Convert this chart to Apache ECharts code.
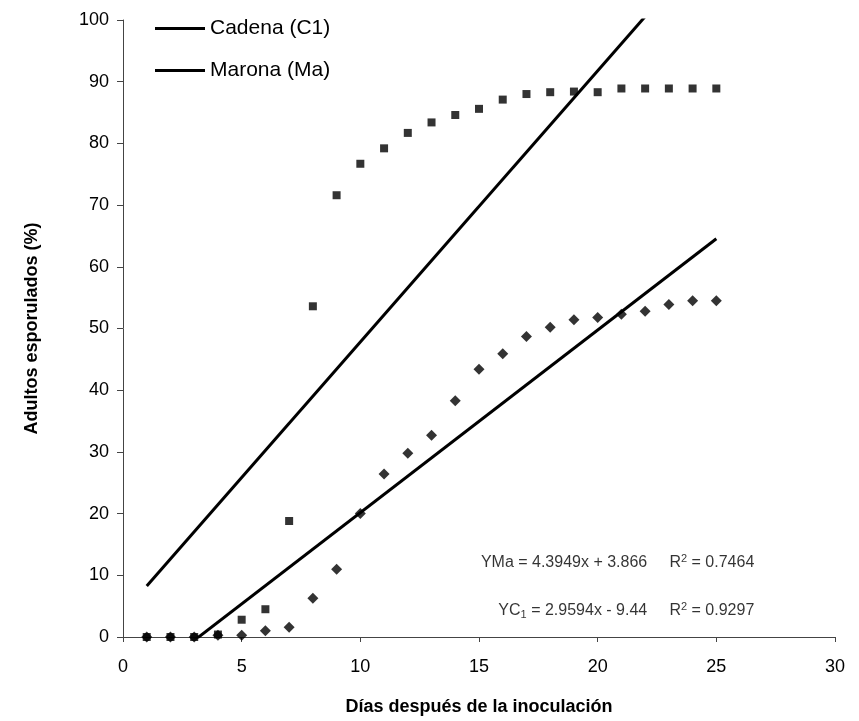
<!DOCTYPE html>
<html>
<head>
<meta charset="utf-8">
<script src="https://cdn.jsdelivr.net/npm/echarts@6/dist/echarts.min.js"></script>
<style>
  html, body { margin: 0; padding: 0; background: #fff; }
  #chart { width: 859px; height: 721px; }
</style>
</head>
<body>
<div id="chart"></div>
<script>
// ---- data ----
const days = [1, 2, 3, 4, 5, 6, 7, 8, 9, 10, 11, 12, 13, 14, 15, 16, 17, 18, 19, 20, 21, 22, 23, 24, 25];
// Marona (Ma) – squares
const maronaValues = [0, 0, 0, 0.4, 2.8, 4.5, 18.8, 53.6, 71.6, 76.7, 79.2, 81.7, 83.4, 84.6, 85.6, 87.1, 88.0, 88.3, 88.4, 88.3, 88.9, 88.9, 88.9, 88.9, 88.9];
// Cadena (C1) – diamonds
const cadenaValues = [0, 0, 0, 0.3, 0.3, 1.0, 1.6, 6.3, 11.0, 20.0, 26.4, 29.8, 32.7, 38.3, 43.4, 45.9, 48.7, 50.2, 51.4, 51.8, 52.3, 52.8, 53.9, 54.5, 54.5];
// linear trendlines (from the printed equations)
const maSlope = 4.3949, maIntercept = 3.866, maR2 = '0.7464';
const c1Slope = 2.9594, c1Intercept = -9.44, c1R2 = '0.9297';
const xTicks = [0, 5, 10, 15, 20, 25, 30];
const yTicks = [0, 10, 20, 30, 40, 50, 60, 70, 80, 90, 100];
const legendNames = ['Cadena (C1)', 'Marona (Ma)'];
// anchor (data coords) of the right end of the equation labels
const eqAnchorX = 26.6;
const eqMaY = 12.0;
const eqC1Y = 4.3;

const FONT = '"Liberation Sans", Arial, sans-serif';

const pairs = (xs, ys) => xs.map((x, i) => [x, ys[i]]);
const x0 = days[0], x1 = days[days.length - 1];
const maLine = [[x0, maSlope * x0 + maIntercept], [x1, maSlope * x1 + maIntercept]];
const c1Line = [[x0, c1Slope * x0 + c1Intercept], [x1, c1Slope * x1 + c1Intercept]];

const chart = echarts.init(document.getElementById('chart'), null, { renderer: 'canvas' });

const axisColor = '#444';
const lineIcon = 'path://M0,0L100,0L100,6L0,6Z';

chart.setOption({
  backgroundColor: '#fff',
  animation: false,
  textStyle: { fontFamily: FONT, color: '#000' },
  grid: { left: 123, right: 24, top: 20, bottom: 84, containLabel: false },
  legend: {
    data: legendNames.map(n => ({ name: n, icon: lineIcon })),
    orient: 'vertical',
    left: 150,
    top: 13,
    itemWidth: 50,
    itemHeight: 22,
    itemGap: 21,
    symbolKeepAspect: true,
    textStyle: { fontFamily: FONT, fontSize: 21, color: '#000' }
  },
  xAxis: {
    type: 'value',
    min: xTicks[0],
    max: xTicks[xTicks.length - 1],
    interval: xTicks[1] - xTicks[0],
    name: 'Días después de la inoculación',
    nameLocation: 'middle',
    nameGap: 61,
    nameTextStyle: { fontFamily: FONT, fontSize: 18, fontWeight: 'bold', color: '#000' },
    axisLine: { show: true, onZero: false, lineStyle: { color: axisColor, width: 1 } },
    axisTick: { show: true, inside: false, length: 5, lineStyle: { color: axisColor } },
    axisLabel: { fontFamily: FONT, fontSize: 18, color: '#000', margin: 21 },
    splitLine: { show: false }
  },
  yAxis: {
    type: 'value',
    min: yTicks[0],
    max: yTicks[yTicks.length - 1],
    interval: yTicks[1] - yTicks[0],
    name: 'Adultos esporulados (%)',
    nameLocation: 'middle',
    nameGap: 82,
    nameTextStyle: { fontFamily: FONT, fontSize: 18, fontWeight: 'bold', color: '#000' },
    axisLine: { show: true, onZero: false, lineStyle: { color: axisColor, width: 1 } },
    axisTick: { show: true, inside: false, length: 6, lineStyle: { color: axisColor } },
    axisLabel: { fontFamily: FONT, fontSize: 18, color: '#000', margin: 14 },
    splitLine: { show: false }
  },
  series: [
    {
      name: 'Marona (Ma) datos',
      type: 'scatter',
      data: pairs(days, maronaValues),
      symbol: 'rect',
      symbolSize: 8,
      itemStyle: { color: '#000' },
      z: 3
    },
    {
      name: 'Cadena (C1) datos',
      type: 'scatter',
      data: pairs(days, cadenaValues),
      symbol: 'diamond',
      symbolSize: 11,
      itemStyle: { color: '#000' },
      z: 3
    },
    {
      name: 'Marona (Ma)',
      type: 'line',
      data: maLine,
      showSymbol: false,
      symbol: 'none',
      clip: true,
      lineStyle: { color: '#000', width: 3 },
      itemStyle: { color: '#000' },
      z: 4
    },
    {
      name: 'Cadena (C1)',
      type: 'line',
      data: c1Line,
      showSymbol: false,
      symbol: 'none',
      clip: true,
      lineStyle: { color: '#000', width: 3 },
      itemStyle: { color: '#000' },
      z: 4
    },
    {
      name: 'ecuaciones',
      type: 'scatter',
      data: [
        { value: [eqAnchorX, eqMaY], eq: 'ma' },
        { value: [eqAnchorX, eqC1Y], eq: 'c1' }
      ],
      symbolSize: 0,
      silent: true,
      label: {
        show: true,
        position: 'left',
        distance: 0,
        fontFamily: FONT,
        fontSize: 16,
        color: '#000',
        formatter: function (p) {
          if (p.data.eq === 'ma') {
            return '{t|YMa = ' + maSlope + 'x + ' + maIntercept + '     R}{sup|2}{t| = ' + maR2 + '}';
          }
          return '{t|YC}{sub|1}{t| = ' + c1Slope + 'x - ' + Math.abs(c1Intercept) + '     R}{sup|2}{t| = ' + c1R2 + '}';
        },
        rich: {
          t: { fontFamily: FONT, fontSize: 16, color: '#000', lineHeight: 22, verticalAlign: 'middle' },
          sup: { fontFamily: FONT, fontSize: 11, color: '#000', lineHeight: 22, verticalAlign: 'top', padding: [2, 0, 0, 0] },
          sub: { fontFamily: FONT, fontSize: 11, color: '#000', lineHeight: 22, verticalAlign: 'bottom', padding: [0, 0, 1, 0] }
        }
      },
      z: 5
    }
  ]
});
</script>
</body>
</html>
